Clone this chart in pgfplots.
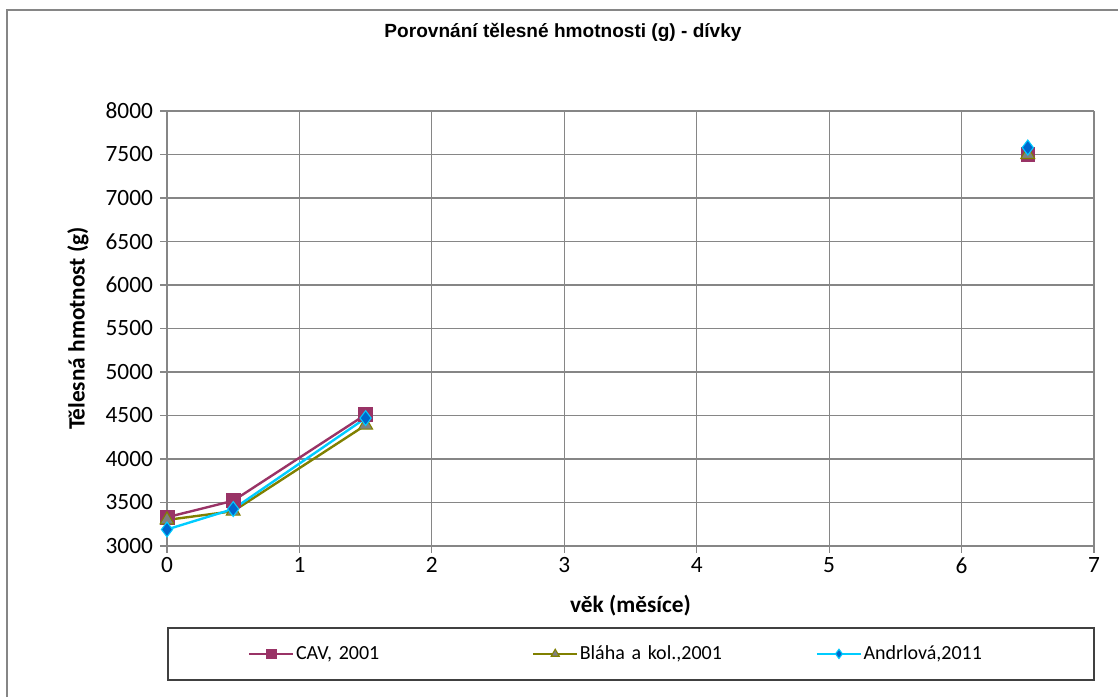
\documentclass[border=0pt]{standalone}
\usepackage{pgfplots}
\pgfplotsset{compat=1.18}
\usepackage{fontspec}
\setmainfont{Carlito}
\newfontfamily\arialfont{Liberation Sans}
\definecolor{cav}{RGB}{153,51,102}
\definecolor{blaha}{RGB}{128,128,0}
\definecolor{blahafill}{RGB}{128,128,128}
\definecolor{andr}{RGB}{0,204,255}
\definecolor{andrfill}{RGB}{0,102,204}
\definecolor{gridc}{RGB}{134,134,134}
\begin{document}
\begin{tikzpicture}
\begin{scope}[x=0.75pt,y=-0.75pt,yshift=522.75pt]
\path[use as bounding box] (0,0) rectangle (1118,697);
\draw[gridc, line width=1.5pt] (7,697) -- (7,10) -- (1118,10);
\node[font=\arialfont\bfseries\fontsize{14.3}{16}\selectfont] at (563,32) {Porovnání tělesné hmotnosti (g) - dívky};
\draw[black!75, line width=1pt] (168,628) rectangle (1094,680);
\end{scope}
\begin{axis}[
  at={(125.25pt,113.25pt)}, anchor=origin,
  scale only axis, width=695.25pt, height=326.25pt,
  xmin=0, xmax=7, ymin=3000, ymax=8000,
  xtick={0,1,...,7}, ytick={3000,3500,...,8000},
  /pgf/number format/assume math mode=true,
  /pgf/number format/set thousands separator={},
  tick label style={font=\fontsize{17.5}{19}\selectfont},
  yticklabel style={xshift=-2pt},
  grid=major, grid style={gridc, line width=0.8pt},
  axis line style={gridc, line width=0.8pt},
  tick style={gridc, line width=0.8pt},
  tick align=outside, major tick length=5pt,
  axis x line*=bottom, axis y line*=left,
  xlabel={věk (měsíce)}, ylabel={Tělesná hmotnost (g)},
  every axis x label/.style={at={(axis description cs:0.5,-0.138)}, anchor=center, font=\bfseries\fontsize{17.5}{19}\selectfont},
  every axis y label/.style={at={(axis description cs:-0.096,0.5)}, anchor=center, rotate=90, font=\bfseries\fontsize{17.5}{19}\selectfont},
  unbounded coords=jump,
  legend columns=3,
  legend style={at={(axis description cs:0.0874,-0.248)}, anchor=west, draw=none, fill=none, inner sep=0pt,
    font=\fontsize{15}{17}\selectfont,
    nodes={text width=176pt, align=left, anchor=west, inner xsep=1pt}},
  legend image code/.code={
    \draw[#1, mark repeat=2, mark phase=2, mark size=3.5pt] plot coordinates {(0cm,0cm) (0.58cm,0cm) (1.16cm,0cm)};},
]
\addplot[cav, line width=1.8pt, mark=square*, mark size=5.2pt, mark options={fill=cav, draw=cav, line width=0.5pt}]
  table {
x y
0 3330
0.5 3520
1.5 4510
3 nan
6.5 7500
};
\addlegendentry{\mbox{CAV, 2001}}
\addplot[blaha, line width=1.8pt, mark=triangle*, mark size=6pt, mark options={fill=blahafill, draw=blaha, line width=0.8pt}]
  table {
x y
0 3300
0.5 3400
1.5 4390
3 nan
6.5 7500
};
\addlegendentry{\mbox{Bláha a kol.,2001}}
\addplot[andr, line width=1.8pt, mark=diamond*, mark size=5.6pt, mark options={fill=andrfill, draw=andr, line width=0.8pt}]
  table {
x y
0 3190
0.5 3425
1.5 4470
3 nan
6.5 7580
};
\addlegendentry{\mbox{Andrlová,2011}}
\end{axis}
\end{tikzpicture}
\end{document}
